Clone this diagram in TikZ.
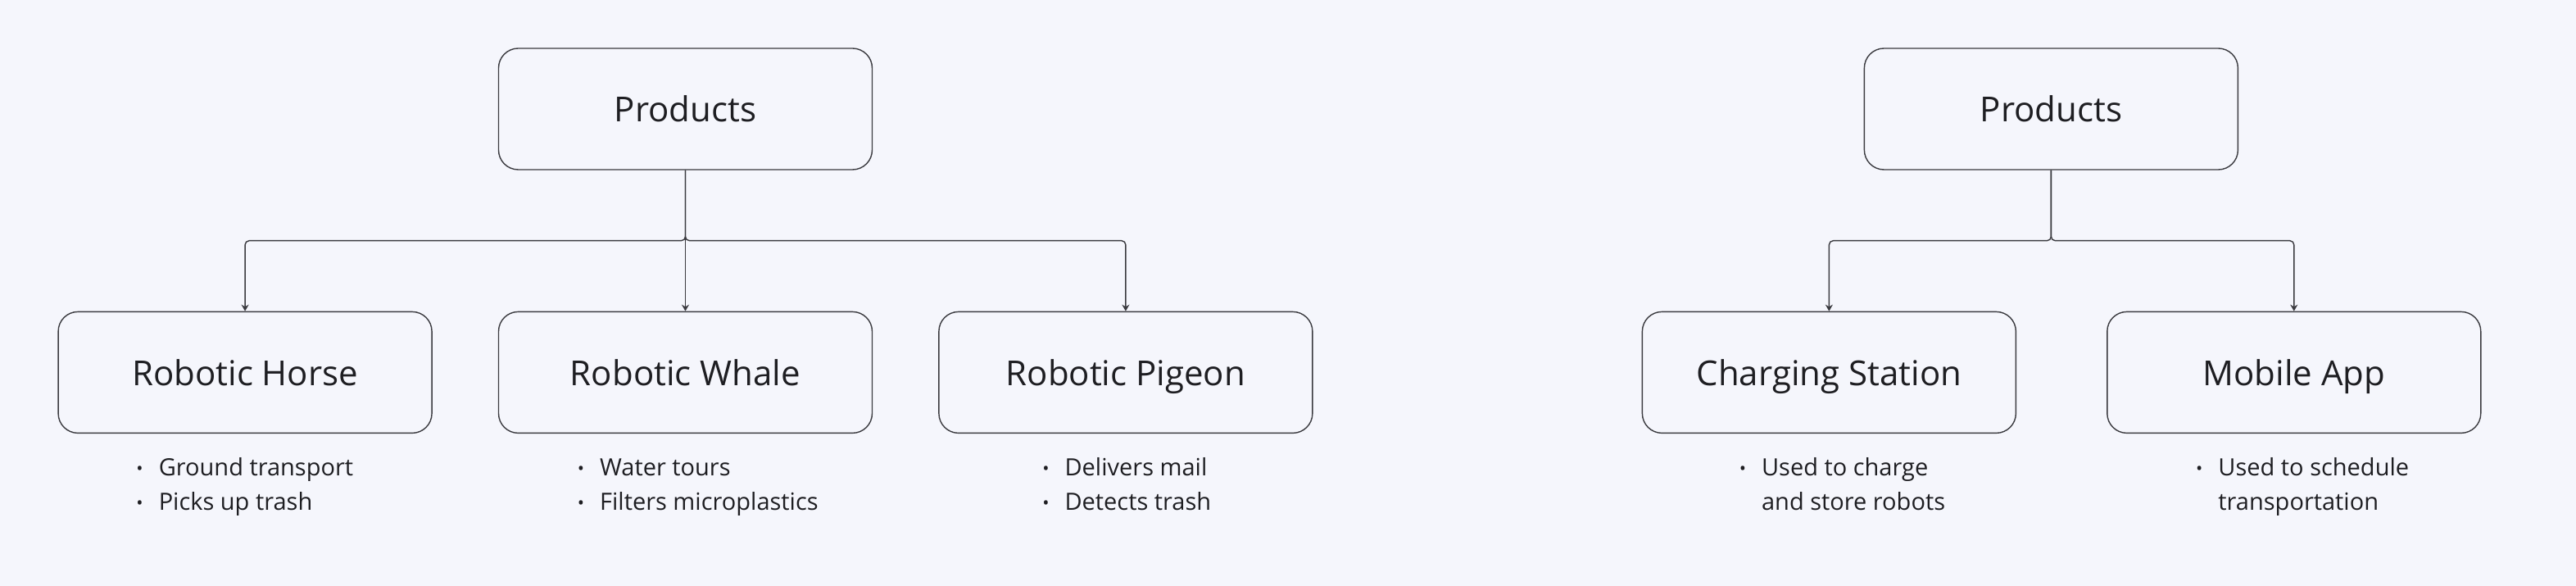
\documentclass[tikz,border=0pt]{standalone}
\usepackage{fontspec}
\setmainfont{Open Sans}
\usepackage{tikz}
\usetikzlibrary{positioning,arrows.meta}
\definecolor{bgcol}{HTML}{F5F6FC}
\definecolor{linecol}{HTML}{3A3A3F}
\definecolor{textcol}{HTML}{1E1E22}
\tikzset{
  box/.style={draw=linecol, line width=0.7pt, rounded corners=12pt, minimum width=228pt, minimum height=74pt, inner sep=0pt, text height=20pt, text depth=4pt, text=textcol, font=\fontsize{21}{25}\selectfont},
  conn/.style={draw=linecol, line width=0.7pt, rounded corners=2.5pt, -{Stealth[length=4pt,width=4.5pt]}},
  notes/.style={inner sep=0pt, text=textcol, font=\fontsize{14.5}{21}\selectfont, anchor=base west}
}
\newcommand{\bulletlist}[1]{\begin{tabular}[t]{@{}l@{\hspace{9.5pt}}l@{}}#1\end{tabular}}
\newcommand{\bl}{\raisebox{0.5pt}{\fontsize{11}{11}\selectfont\textbullet}}

\begin{document}
\begin{tikzpicture}
\fill[bgcol] (-418.25pt,-291pt) rectangle (1153.75pt,66.5pt);

\node[box] (P1) at (0,0) {Products};
\node[box, below = 86pt of P1] (RW) {Robotic Whale};
\node[box, left = 40pt of RW] (RH) {Robotic Horse};
\node[box, right = 40pt of RW] (RP) {Robotic Pigeon};

\node[box, right = 604.75pt of P1] (P2) {Products};
\node[box, below = 86pt of P2, xshift=-135.5pt] (CS) {Charging Station};
\node[box, right = 55pt of CS] (MA) {Mobile App};

\path[conn] (P1.south) -- ++(0,-43pt) -| (RH.north);
\path[conn] (P1.south) -- (RW.north);
\path[conn] (P1.south) -- ++(0,-43pt) -| (RP.north);
\path[conn] (P2.south) -- ++(0,-43pt) -| (CS.north);
\path[conn] (P2.south) -- ++(0,-43pt) -| (MA.north);

\node[notes] (RHn) at ([xshift=-66.5pt, yshift=-25.5pt]RH.south) {\bulletlist{\bl & Ground transport\\ \bl & Picks up trash}};
\node[notes] (RWn) at ([xshift=-66pt, yshift=-25.5pt]RW.south) {\bulletlist{\bl & Water tours\\ \bl & Filters microplastics}};
\node[notes] (RPn) at ([xshift=-51pt, yshift=-25.5pt]RP.south) {\bulletlist{\bl & Delivers mail\\ \bl & Detects trash}};
\node[notes] (CSn) at ([xshift=-55pt, yshift=-25.5pt]CS.south) {\bulletlist{\bl & Used to charge\\ & and store robots}};
\node[notes] (MAn) at ([xshift=-60pt, yshift=-25.5pt]MA.south) {\bulletlist{\bl & Used to schedule\\ & transportation}};
\end{tikzpicture}
\end{document}
